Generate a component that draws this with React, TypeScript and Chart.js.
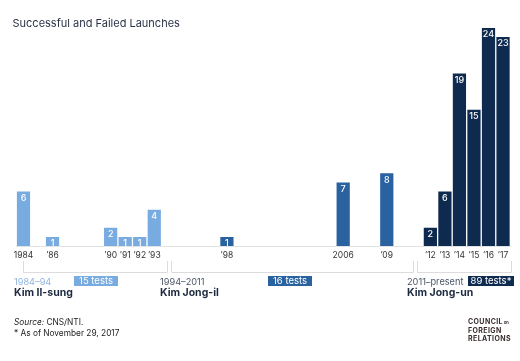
import React, { useEffect, useRef } from "react";
import { Chart, registerables } from "chart.js";

Chart.register(...registerables);

const years: number[] = [];
for (let y = 1984; y <= 2017; y++) years.push(y);

const launchYears = [1984, 1986, 1990, 1991, 1992, 1993, 1998, 2006, 2009, 2012, 2013, 2014, 2015, 2016, 2017];
const launchCounts = [6, 1, 2, 1, 1, 4, 1, 7, 8, 2, 6, 19, 15, 24, 23];
const tickTexts = ["1984", "’86", "’90", "’91", "’92", "’93", "’98", "2006", "’09", "’12", "’13", "’14", "’15", "’16", "’17"];

const eraNames = ["Kim Il-sung", "Kim Jong-il", "Kim Jong-un"];
const eraSpans = ["1984–94", "1994–2011", "2011–present"];
const eraTotals = ["15 tests", "16 tests", "89 tests*"];
const eraStart = [1984, 1994, 2011];
const eraColors = ["#78abe0", "#2a62a0", "#0e2a4f"];

const values = years.map((y) => {
  const i = launchYears.indexOf(y);
  return i >= 0 ? launchCounts[i] : null;
});
const tickLabels = years.map((y) => {
  const i = launchYears.indexOf(y);
  return i >= 0 ? tickTexts[i] : "";
});
const eraOf = (y: number) => (y >= eraStart[2] ? 2 : y >= eraStart[1] ? 1 : 0);

const FONT = "Inter, 'Noto Sans', sans-serif";

const valueLabels = {
  id: "valueLabels",
  afterDatasetsDraw(chart: any) {
    const ctx = chart.ctx;
    const meta = chart.getDatasetMeta(0);
    ctx.save();
    ctx.fillStyle = "#ffffff";
    ctx.font = `500 9px ${FONT}`;
    ctx.textAlign = "center";
    ctx.textBaseline = "top";
    meta.data.forEach((el: any, i: number) => {
      const v = values[i];
      if (v == null) return;
      ctx.fillText(String(v), el.x, el.y + 2);
    });
    ctx.restore();
  },
};

const brackets = {
  id: "brackets",
  afterDraw(chart: any) {
    const ctx = chart.ctx;
    const xs = chart.scales.x;
    const segs = [
      [0, 9.88],
      [10.15, 26.8],
      [27.08, 33.55],
    ];
    ctx.save();
    ctx.strokeStyle = "#dcdcdc";
    ctx.lineWidth = 1;
    segs.forEach(([a, b]) => {
      const x1 = Math.round(xs.getPixelForValue(a)) + 0.5;
      const x2 = Math.round(xs.getPixelForValue(b)) + 0.5;
      ctx.beginPath();
      ctx.moveTo(x1, 261);
      ctx.lineTo(x1, 272.5);
      ctx.lineTo(x2, 272.5);
      ctx.lineTo(x2, 261);
      ctx.stroke();
    });
    ctx.restore();
  },
};

export default function App() {
  const ref = useRef<HTMLCanvasElement>(null);
  useEffect(() => {
    if (!ref.current) return;
    const chart = new Chart(ref.current, {
      type: "bar",
      data: {
        labels: years.map(String),
        datasets: [
          {
            data: values as any,
            backgroundColor: years.map((y) => eraColors[eraOf(y)]),
            borderWidth: 0,
            barPercentage: 0.91,
            categoryPercentage: 1,
          },
        ],
      },
      options: {
        animation: false,
        responsive: false,
        layout: { padding: { left: 16.2, right: 9.7, top: 28, bottom: 0 } },
        plugins: { legend: { display: false }, tooltip: { enabled: false } },
        scales: {
          x: {
            grid: { display: false, drawTicks: false },
            border: { display: true, color: "#e3e3e3", width: 1 },
            ticks: {
              autoSkip: false,
              maxRotation: 0,
              padding: 4,
              color: "#333333",
              font: { family: FONT, size: 8.5 },
              callback: (_v: any, i: number) => tickLabels[i],
            },
            afterFit: (s: any) => {
              s.height = 115;
            },
          },
          y: { display: false, min: 0, max: 24 },
        },
      },
      plugins: [valueLabels, brackets],
    });
    return () => chart.destroy();
  }, []);

  const abs = (l: number, t: number, extra: React.CSSProperties = {}): React.CSSProperties => ({
    position: "absolute",
    left: l,
    top: t,
    whiteSpace: "nowrap",
    lineHeight: 1,
    ...extra,
  });
  const spanX = [14, 160, 407];
  const boxX = [74, 268, 468];
  const boxW = [44, 44, 46];

  return (
    <div style={{ position: "absolute", left: 0, top: 0, width: 520, height: 361, background: "#fff", fontFamily: FONT }}>
      <canvas ref={ref} width={520} height={361} style={{ position: "absolute", left: 0, top: 0 }} />
      <div style={abs(12.5, 18, { fontSize: 11, color: "#2b3447" })}>Successful and Failed Launches</div>
      {eraNames.map((n, i) => (
        <React.Fragment key={n}>
          <div style={abs(spanX[i], 276.5, { fontSize: 9.2, color: i === 0 ? "#8fb5df" : "#4a5566" })}>{eraSpans[i]}</div>
          <div
            style={abs(boxX[i], 276, {
              width: boxW[i],
              height: 10,
              fontSize: 9.5,
              lineHeight: "10px",
              color: "#fff",
              background: eraColors[i],
              textAlign: "center",
            })}
          >
            {eraTotals[i]}
          </div>
          <div style={abs(spanX[i], 288, { fontSize: 10.5, fontWeight: 700, color: "#1d2a40" })}>{n}</div>
        </React.Fragment>
      ))}
      <div style={abs(14, 318, { fontSize: 8.3, color: "#222" })}>
        <i>Source:</i> CNS/NTI.
      </div>
      <div style={abs(14, 329, { fontSize: 8.3, color: "#222" })}>* As of November 29, 2017</div>
      <div style={abs(468, 318, { fontSize: 7, fontWeight: 700, color: "#3b2d2d", letterSpacing: 0.4, lineHeight: "8px" })}>
        <div>
          COUNCIL<span style={{ fontSize: 4, letterSpacing: 0 }}> on</span>
        </div>
        <div>FOREIGN</div>
        <div>RELATIONS</div>
      </div>
    </div>
  );
}
